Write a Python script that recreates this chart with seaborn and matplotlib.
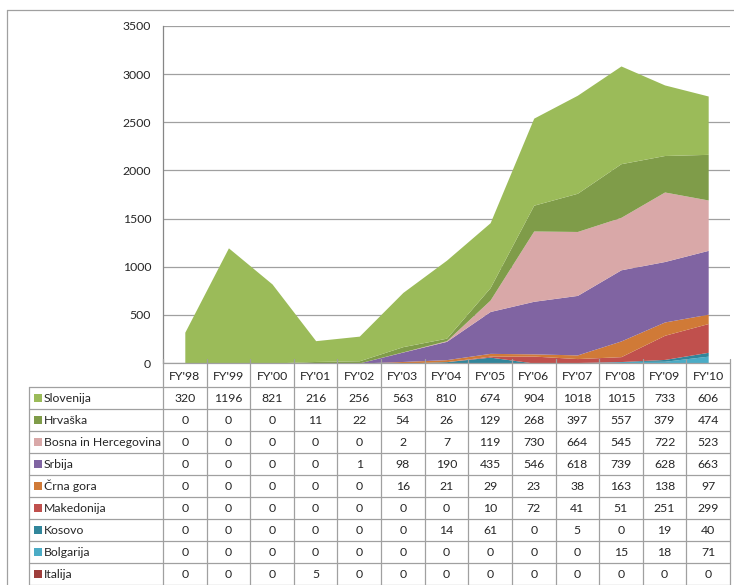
"""
Stacked area chart with an Excel-style data table underneath.
"""

import numpy as np
import matplotlib
matplotlib.use("Agg")
import matplotlib.pyplot as plt
from matplotlib.patches import Rectangle
import seaborn as sns

years = ["FY'98", "FY'99", "FY'00", "FY'01", "FY'02", "FY'03", "FY'04",
         "FY'05", "FY'06", "FY'07", "FY'08", "FY'09", "FY'10"]

# table order (top to bottom); stacking goes the other way
names = ["Slovenija", "Hrvaška", "Bosna in Hercegovina", "Srbija", "Črna gora",
         "Makedonija", "Kosovo", "Bolgarija", "Italija"]
slovenija = [320, 1196, 821, 216, 256, 563, 810, 674, 904, 1018, 1015, 733, 606]
hrvaska = [0, 0, 0, 11, 22, 54, 26, 129, 268, 397, 557, 379, 474]
bosna = [0, 0, 0, 0, 0, 2, 7, 119, 730, 664, 545, 722, 523]
srbija = [0, 0, 0, 0, 1, 98, 190, 435, 546, 618, 739, 628, 663]
crna_gora = [0, 0, 0, 0, 0, 16, 21, 29, 23, 38, 163, 138, 97]
makedonija = [0, 0, 0, 0, 0, 0, 0, 10, 72, 41, 51, 251, 299]
kosovo = [0, 0, 0, 0, 0, 0, 14, 61, 0, 5, 0, 19, 40]
bolgarija = [0, 0, 0, 0, 0, 0, 0, 0, 0, 0, 15, 18, 71]
italija = [0, 0, 0, 5, 0, 0, 0, 0, 0, 0, 0, 0, 0]
colors = ["#9BBB59", "#7F9C49", "#D9A8A8", "#8064A2", "#D07A37",
          "#C0504D", "#31869B", "#4BACC6", "#9E3D3B"]

series = [slovenija, hrvaska, bosna, srbija, crna_gora,
          makedonija, kosovo, bolgarija, italija]
y_ticks = [0, 500, 1000, 1500, 2000, 2500, 3000, 3500]

sns.set_theme(style="white")
plt.rcParams['font.family'] = ['Lato', 'DejaVu Sans']

W, H = 734, 585
fig = plt.figure(figsize=(W / 100, H / 100), dpi=100)

# pixel layout
x0, x1 = 163, 730
y_top, y_bot = 26, 363
n = len(years)
cw = (x1 - x0) / n
row_h = 22
hdr_bot = 387
leg_left = 29
grid_c = "#A0A0A0"
fs = 8.8

ax = fig.add_axes([x0 / W, 1 - y_bot / H, (x1 - x0) / W, (y_bot - y_top) / H])
x = np.arange(n)
ax.stackplot(x, *[np.array(s) for s in series[::-1]], colors=colors[::-1],
             linewidth=0)
ax.set_xlim(-0.5, n - 0.5)
ax.set_ylim(0, 3500)
ax.set_yticks(y_ticks)
ax.set_yticklabels([str(v) for v in y_ticks], fontsize=fs)
ax.set_xticks([])
ax.tick_params(axis='y', length=0, pad=8.5)
ax.yaxis.grid(True, color=grid_c, linewidth=0.9)
ax.set_axisbelow(True)
for side in ["top", "right", "bottom"]:
    ax.spines[side].set_visible(False)
ax.spines["left"].set_color("#868686")
ax.spines["left"].set_linewidth(0.9)

# overlay for the data table and the outer frame
tab = fig.add_axes([0, 0, 1, 1])
tab.set_xlim(0, W)
tab.set_ylim(H, 0)
tab.axis("off")
tab.patch.set_alpha(0)

line_kw = dict(color=grid_c, linewidth=0.9)
# outer chart frame
tab.plot([7, 7], [10, H], **line_kw)
tab.plot([7, W], [10, 10], **line_kw)

# horizontal table lines
tab.plot([x0, x1], [y_bot, y_bot], **line_kw)
for k in range(len(names) + 1):
    yy = hdr_bot + k * row_h
    tab.plot([leg_left, x1], [yy, yy], **line_kw)
# vertical table lines
for i in range(n + 1):
    xx = x0 + i * cw
    tab.plot([xx, xx], [y_bot - 4, H], **line_kw)
tab.plot([leg_left, leg_left], [hdr_bot, H], **line_kw)

# header
for i, yr in enumerate(years):
    tab.text(x0 + (i + 0.5) * cw, (y_bot + hdr_bot) / 2 + 1, yr,
             ha="center", va="center", fontsize=fs)

# rows
for r, (name, vals, c) in enumerate(zip(names, series, colors)):
    yc = hdr_bot + (r + 0.5) * row_h
    tab.add_patch(Rectangle((34, yc - 4), 8, 8, color=c, linewidth=0))
    tab.text(44, yc, name, ha="left", va="center", fontsize=fs)
    for i, v in enumerate(vals):
        tab.text(x0 + (i + 0.5) * cw, yc, str(v), ha="center", va="center",
                 fontsize=fs)

fig.savefig("out.png", dpi=100)
